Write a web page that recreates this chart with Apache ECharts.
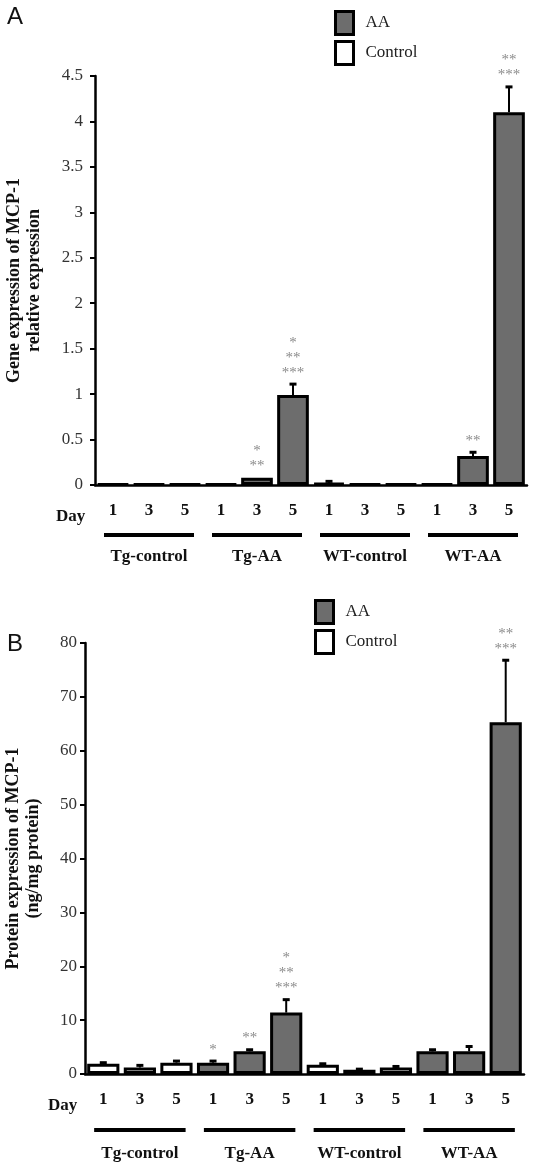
<!DOCTYPE html>
<html><head><meta charset="utf-8">
<script src="https://cdn.jsdelivr.net/npm/echarts@6/dist/echarts.min.js"></script>
<style>html,body{margin:0;padding:0;background:#fff}#c{width:535px;height:1167px}</style>
</head><body><div id="c"></div>
<script>
const groups = ['Tg-control', 'Tg-AA', 'WT-control', 'WT-AA'];
const groupType = ['Control', 'AA', 'Control', 'AA'];
const days = ['1', '3', '5'];

// Panel A: gene expression of MCP-1 (relative expression)
const geneMean = [0.01, 0.01, 0.01, 0.01, 0.08, 0.99, 0.02, 0.01, 0.01, 0.01, 0.32, 4.10];
const geneErr  = [0.01, 0.01, 0.01, 0.01, 0.08, 1.11, 0.04, 0.01, 0.01, 0.01, 0.36, 4.38];
const geneStars = ['', '', '', '', '*\n**', '*\n**\n***', '', '', '', '', '**', '**\n***'];

// Panel B: protein expression of MCP-1 (ng/mg protein)
const protMean = [1.9, 1.2, 2.1, 2.1, 4.2, 11.4, 1.7, 0.8, 1.2, 4.2, 4.2, 65.3];
const protErr  = [2.1, 1.6, 2.4, 2.4, 4.5, 13.8, 1.9, 0.9, 1.4, 4.5, 5.1, 76.8];
const protStars = ['', '', '', '*', '**', '*\n**\n***', '', '', '', '', '', '**\n***'];

const legendNames = ['AA', 'Control'];

const categories = [];
const catType = [];
groups.forEach((g, k) => days.forEach(d => { categories.push(g + '|' + d); catType.push(groupType[k]); }));
const groupSpans = groups.map((g, k) => [k * days.length, k * days.length + days.length - 1]);

const SERIF = '"Liberation Serif", "Times New Roman", serif';
const GRAY = '#6d6d6d';

function pick(arr, type) { return arr.map((v, i) => catType[i] === type ? v : '-'); }

function errSeries(mean, err, stars, idx) {
  return {
    type: 'custom', xAxisIndex: idx * 2, yAxisIndex: idx, z: 5, silent: true,
    data: mean.map((m, i) => [i, m, err[i]]),
    encode: { x: 0, y: [1, 2] },
    renderItem: function (params, api) {
      const i = api.value(0), m = api.value(1), e = api.value(2);
      const pM = api.coord([i, m]), pE = api.coord([i, e]);
      const ch = [];
      if (e > m) {
        ch.push({ type: 'line', shape: { x1: pM[0], y1: pM[1], x2: pE[0], y2: pE[1] }, style: { stroke: '#000', lineWidth: 2 } });
        ch.push({ type: 'line', shape: { x1: pE[0] - 3.5, y1: pE[1], x2: pE[0] + 3.5, y2: pE[1] }, style: { stroke: '#000', lineWidth: 3 } });
      }
      const s = stars[params.dataIndex];
      if (s) {
        ch.push({ type: 'text', x: pE[0], y: Math.min(pE[1], pM[1]) - 4,
          style: { text: s, fill: '#8a8a8a', font: '15px ' + SERIF, align: 'center', verticalAlign: 'bottom', lineHeight: 15 } });
      }
      return { type: 'group', children: ch };
    }
  };
}

function lineSeries(idx, off) {
  return {
    type: 'custom', xAxisIndex: idx * 2, yAxisIndex: idx, silent: true, clip: false,
    data: groupSpans,
    encode: { x: [0, 1] },
    renderItem: function (params, api) {
      const a = api.coord([api.value(0), 0]), b = api.coord([api.value(1), 0]);
      const bw = api.size([1, 0])[0];
      return { type: 'line', shape: { x1: a[0] - bw * 0.25, y1: a[1] + off, x2: b[0] + bw * 0.25, y2: a[1] + off },
        style: { stroke: '#000', lineWidth: 4 } };
    }
  };
}

function barSeries(name, data, idx) {
  return {
    name: name, type: 'bar', xAxisIndex: idx * 2, yAxisIndex: idx,
    data: data, barWidth: '88%', barGap: '-100%',
    itemStyle: { color: name === 'AA' ? GRAY : '#fff', borderColor: '#000', borderWidth: 3 }
  };
}

function dayAxis(gi) {
  return {
    type: 'category', gridIndex: gi, data: categories, position: 'bottom',
    axisLine: { lineStyle: { color: '#000', width: 2.5 } },
    axisTick: { alignWithLabel: true, length: 4, lineStyle: { color: '#888', width: 1 } },
    axisLabel: { interval: 0, margin: 17, formatter: v => v.split('|')[1], fontFamily: SERIF, fontWeight: 'bold', fontSize: 17, color: '#111' }
  };
}
function groupAxis(gi, off) {
  return {
    type: 'category', gridIndex: gi, data: groups, position: 'bottom', offset: off,
    axisLine: { show: false }, axisTick: { show: false },
    axisLabel: { interval: 0, margin: 0, fontFamily: SERIF, fontWeight: 'bold', fontSize: 17, color: '#111' }
  };
}
function valAxis(gi, min, max, interval, name, gap, lm) {
  return {
    type: 'value', gridIndex: gi, min: min, max: max, interval: interval,
    splitLine: { show: false },
    axisLine: { show: true, lineStyle: { color: '#000', width: 2.5 } },
    axisTick: { show: true, length: 5, lineStyle: { color: '#000', width: 2 } },
    axisLabel: { margin: lm, fontFamily: SERIF, fontSize: 17, color: '#333' },
    name: name, nameLocation: 'middle', nameRotate: 90, nameGap: gap,
    nameTextStyle: { fontFamily: SERIF, fontWeight: 'bold', fontSize: 18, color: '#111', lineHeight: 20 }
  };
}
function legendAt(left, top) {
  return {
    data: legendNames, orient: 'vertical', left: left, top: top, padding: 0, icon: 'rect',
    itemWidth: 18, itemHeight: 23, itemGap: 4,
    itemStyle: { borderColor: '#000', borderWidth: 3 },
    textStyle: { fontFamily: SERIF, fontSize: 17, color: '#222', padding: [0, 0, 0, 7] }
  };
}

const chart = echarts.init(document.getElementById('c'), null, { renderer: 'canvas' });
chart.setOption({
  animation: false,
  backgroundColor: '#fff',
  title: [
    { text: 'A', left: 2, top: 0, textStyle: { fontFamily: '"Liberation Sans", Arial, sans-serif', fontSize: 24, fontWeight: 'normal', color: '#111' } },
    { text: 'B', left: 2, top: 627, textStyle: { fontFamily: '"Liberation Sans", Arial, sans-serif', fontSize: 24, fontWeight: 'normal', color: '#111' } }
  ],
  legend: [legendAt(334, 10), legendAt(314, 599)],
  graphic: [
    { type: 'text', left: 56, top: 508, style: { text: 'Day', font: 'bold 17px ' + SERIF, fill: '#111' } },
    { type: 'text', left: 48, top: 1097, style: { text: 'Day', font: 'bold 17px ' + SERIF, fill: '#111' } }
  ],
  grid: [
    { left: 95, top: 76, width: 432, height: 409, outerBoundsMode: 'none', containLabel: false },
    { left: 85, top: 643, width: 439, height: 431, outerBoundsMode: 'none', containLabel: false }
  ],
  xAxis: [dayAxis(0), groupAxis(0, 63), dayAxis(1), groupAxis(1, 71)],
  yAxis: [
    valAxis(0, 0, 4.5, 0.5, 'Gene expression of MCP-1\nrelative expression', 51, 12),
    valAxis(1, 0, 80, 10, 'Protein expression of MCP-1\n(ng/mg protein)', 42, 8)
  ],
  series: [
    barSeries('AA', pick(geneMean, 'AA'), 0),
    barSeries('Control', pick(geneMean, 'Control'), 0),
    errSeries(geneMean, geneErr, geneStars, 0),
    lineSeries(0, 50),
    barSeries('AA', pick(protMean, 'AA'), 1),
    barSeries('Control', pick(protMean, 'Control'), 1),
    errSeries(protMean, protErr, protStars, 1),
    lineSeries(1, 56)
  ]
});
</script>
</body></html>
